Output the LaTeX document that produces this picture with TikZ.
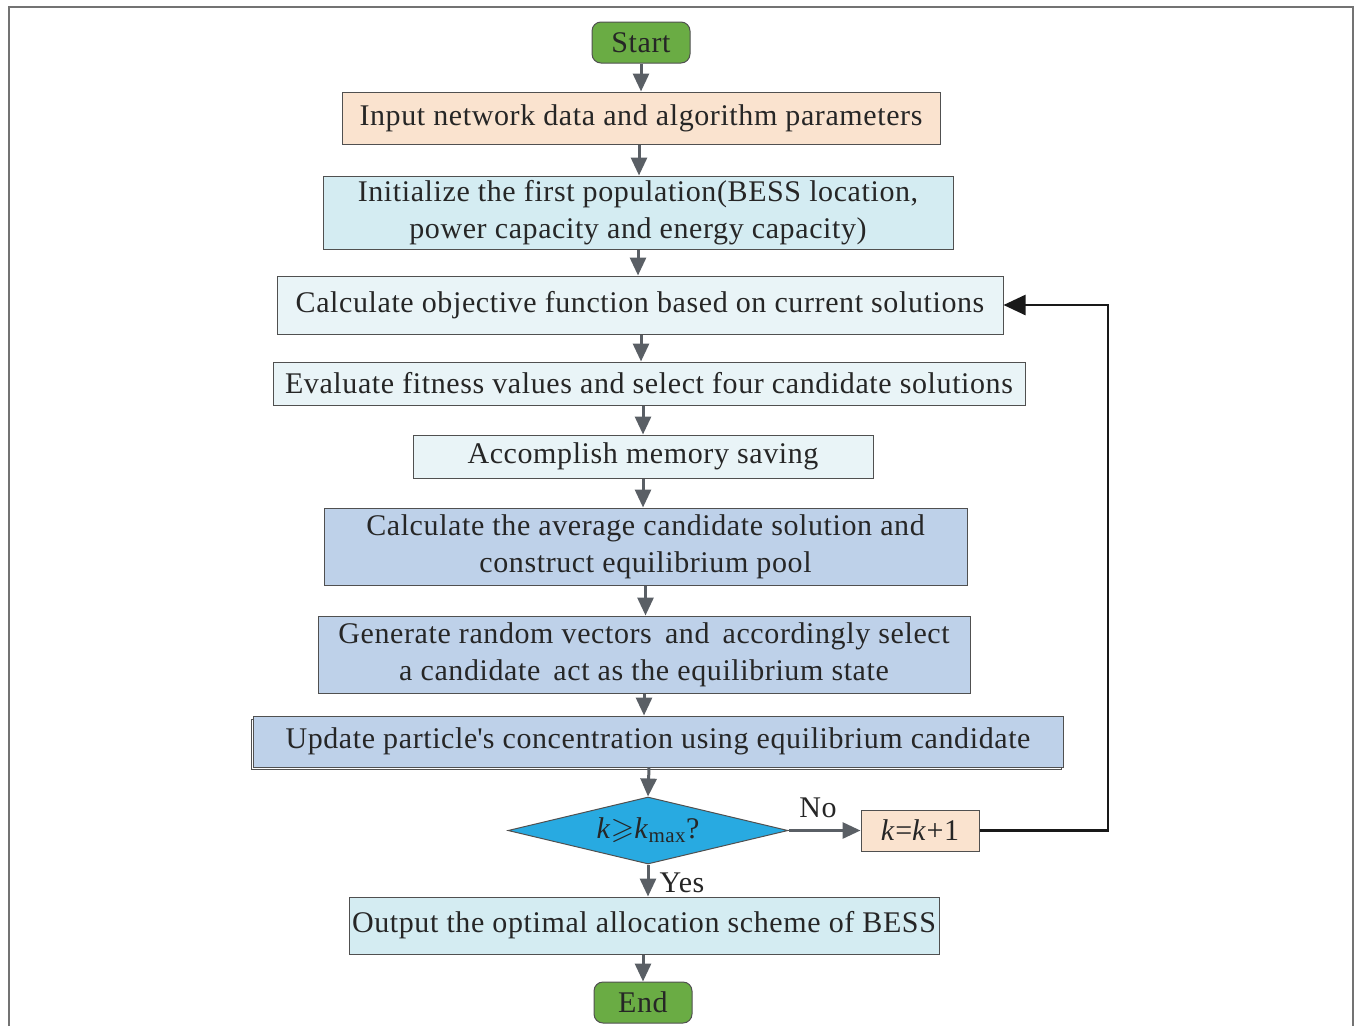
\documentclass[tikz,border=0pt]{standalone}
\usepackage{amssymb}
\usepackage{fontspec}
\setmainfont[LetterSpace=2]{Liberation Serif}
\usetikzlibrary{shapes.geometric,arrows.meta,calc}
\definecolor{grn}{RGB}{106,172,68}
\definecolor{peach}{RGB}{250,227,207}
\definecolor{cyanl}{RGB}{212,236,242}
\definecolor{cyanvl}{RGB}{233,244,247}
\definecolor{steel}{RGB}{190,209,233}
\definecolor{dia}{RGB}{40,170,225}
\definecolor{arrg}{RGB}{90,95,101}
\definecolor{bord}{RGB}{80,80,80}
\begin{document}
\begin{tikzpicture}[x=1pt,y=-1pt,
  txt/.style={font=\fontsize{30}{36}\selectfont, text=black!85},
  boxx/.style={txt, draw=bord, line width=1pt, inner sep=0pt, align=center, anchor=center},
  term/.style={boxx, rounded corners=9pt, fill=grn, minimum width=98pt, minimum height=41pt},
  arr/.style={draw=arrg, line width=3pt, -{Triangle[length=18pt,width=16pt]}, shorten >=0pt},
  fb/.style={draw=black!90, line width=2.5pt, -{Triangle[length=22pt,width=20pt]}}
]
\useasboundingbox (0,0) rectangle (1356,1026);
% frame
\draw[draw=gray!110, line width=2pt] (8.5,1026) -- (8.5,6.5) -- (1353,6.5) -- (1353,1026);

\node[term] (start) at (641,42.5) {Start};
\node[boxx, fill=peach, minimum width=598pt, minimum height=52pt] (input) at (641,118) {Input network data and algorithm parameters};
\node[boxx, fill=cyanl, minimum width=630pt, minimum height=73pt] (init) at (638,212.5) {Initialize the first population(BESS location,\\[1pt] power capacity and energy capacity)};
\node[boxx, fill=cyanvl, minimum width=726pt, minimum height=58pt] (calc) at (640,305) {Calculate objective function based on current solutions};
\node[boxx, fill=cyanvl, minimum width=752pt, minimum height=43pt] (eval) at (649,383.5) {Evaluate fitness values and select four candidate solutions};
\node[boxx, fill=cyanvl, minimum width=460pt, minimum height=43pt] (acc) at (643,456.5) {Accomplish memory saving};
\node[boxx, fill=steel, minimum width=643pt, minimum height=77pt] (avg) at (645.5,546.5) {Calculate the average candidate solution and\\[1pt] construct equilibrium pool};
\node[boxx, fill=steel, minimum width=652pt, minimum height=77pt] (gen) at (644,654.5) {Generate random vectors\, and\, accordingly select\\[1pt] a candidate\, act as the equilibrium state};
\draw[draw=bord, line width=1pt] (251,719) rectangle (1061,769.5);
\node[boxx, fill=steel, minimum width=810pt, minimum height=51pt] (upd) at (658,741.5) {Update particle\textquotesingle s concentration using equilibrium candidate};
\node[boxx, diamond, fill=dia, minimum width=280pt, minimum height=67pt, aspect=4.2] (dec) at (648,830.5) {\textit{k}$\geqslant$\textit{k}\textsubscript{max}?};
\node[boxx, fill=peach, minimum width=118pt, minimum height=41pt] (inc) at (920,830.5) {\textit{k}=\textit{k}+1};
\node[boxx, fill=cyanl, minimum width=590pt, minimum height=57pt] (out) at (644,925.5) {Output the optimal allocation scheme of BESS};
\node[term] (end) at (643,1002.5) {End};

\draw[arr] (start.south) -- (start.south |- input.north);
\draw[arr] ([xshift=-2pt]input.south) -- ([xshift=-2pt]input.south |- init.north);
\draw[arr] (init.south) -- (init.south |- calc.north);
\draw[arr] ([xshift=1pt]calc.south) -- ([xshift=1pt]calc.south |- eval.north);
\draw[arr] ([xshift=-6pt]eval.south) -- ([xshift=-6pt]eval.south |- acc.north);
\draw[arr] (acc.south) -- (acc.south |- avg.north);
\draw[arr] (avg.south) -- (avg.south |- gen.north);
\draw[arr] (gen.south) -- (gen.south |- upd.north);
\draw[arr] ([xshift=-9pt]upd.south) -- (dec.north);
\draw[arr] (dec.south) -- (dec.south |- out.north);
\draw[arr] ([xshift=-1pt]out.south) -- ([xshift=-1pt]out.south |- end.north);
\draw[arr] (dec.east) -- (inc.west);
\node[txt] (no) at (818,808) {No};
\node[txt, anchor=west] (yes) at (656,883) {Yes};
\coordinate (c1) at (1108,830.5);
\coordinate (c2) at (1108,305);
\draw[fb] (inc.east) -- (c1) -- (c2) -- (calc.east);
\end{tikzpicture}
\end{document}
